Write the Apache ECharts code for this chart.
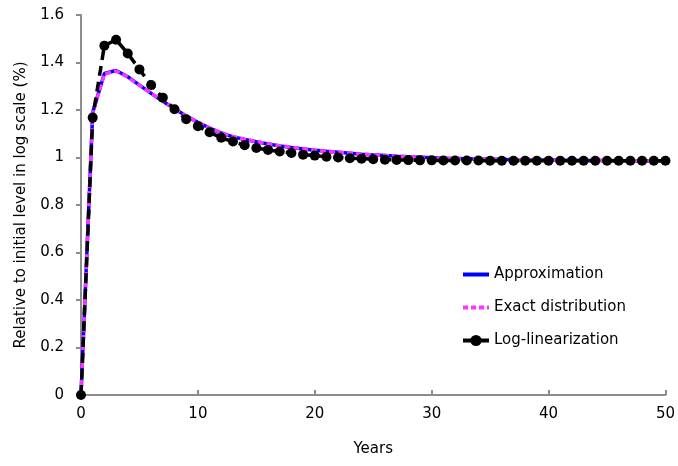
<!DOCTYPE html>
<html>
<head>
<meta charset="utf-8">
<script src="https://cdn.jsdelivr.net/npm/echarts@6/dist/echarts.min.js"></script>
<style>
html,body{margin:0;padding:0;background:#fff;}
#chart{width:678px;height:466px;}
</style>
</head>
<body>
<div id="chart"></div>
<script>
var years = [];
for (var i = 0; i <= 50; i++) years.push(i);

var approximation = [0, 1.19, 1.354, 1.366, 1.34, 1.305, 1.27, 1.237, 1.205, 1.175, 1.148,
  1.124, 1.103, 1.087, 1.076, 1.066, 1.057, 1.049, 1.042, 1.036, 1.031,
  1.026, 1.022, 1.018, 1.014, 1.011, 1.008, 1.005, 1.003, 1.001, 0.999,
  0.997, 0.996, 0.995, 0.994, 0.993, 0.992, 0.991, 0.990, 0.989, 0.989,
  0.988, 0.988, 0.987, 0.987, 0.987, 0.986, 0.986, 0.986, 0.986, 0.986];

var exactDistribution = [0, 1.188, 1.352, 1.364, 1.339, 1.304, 1.27, 1.237, 1.205, 1.175, 1.149,
  1.125, 1.104, 1.088, 1.077, 1.067, 1.058, 1.05, 1.043, 1.037, 1.031,
  1.026, 1.022, 1.018, 1.014, 1.011, 1.008, 1.005, 1.003, 1.001, 0.999,
  0.997, 0.996, 0.995, 0.994, 0.993, 0.992, 0.991, 0.990, 0.989, 0.989,
  0.988, 0.988, 0.987, 0.987, 0.987, 0.986, 0.986, 0.986, 0.986, 0.986];

var logLinearization = [0, 1.168, 1.471, 1.496, 1.438, 1.371, 1.305, 1.252, 1.203, 1.161, 1.132,
  1.106, 1.083, 1.067, 1.052, 1.040, 1.032, 1.025, 1.019, 1.012, 1.008,
  1.003, 1.000, 0.997, 0.995, 0.993, 0.991, 0.990, 0.989, 0.988, 0.988,
  0.987, 0.987, 0.987, 0.987, 0.986, 0.986, 0.986, 0.986, 0.986, 0.986,
  0.986, 0.986, 0.986, 0.986, 0.986, 0.986, 0.986, 0.986, 0.986, 0.986];

var seriesNames = ['Approximation', 'Exact distribution', 'Log-linearization'];
var xTicks = { min: 0, max: 50, interval: 10 };
var yTicks = { min: 0, max: 1.6, interval: 0.2 };

function pairs(vals) {
  return years.map(function (x, i) { return [x, vals[i]]; });
}

var FONT = 'DejaVu Sans';
var chart = echarts.init(document.getElementById('chart'), null, { renderer: 'canvas' });
chart.setOption({
  animation: false,
  backgroundColor: '#ffffff',
  textStyle: { fontFamily: FONT },
  grid: { left: 81, right: 10, top: 15, bottom: 71, containLabel: false },
  legend: {
    orient: 'vertical',
    left: 456,
    top: 262,
    itemWidth: 26,
    itemHeight: 14,
    itemGap: 18,
    textStyle: { fontFamily: FONT, fontSize: 15, color: '#000' },
    data: [
      { name: seriesNames[0], itemStyle: { opacity: 0 }, lineStyle: { width: 4 } },
      { name: seriesNames[1], itemStyle: { opacity: 0 }, lineStyle: { width: 4, type: [5, 3] } },
      { name: seriesNames[2], lineStyle: { width: 4 } }
    ]
  },
  xAxis: {
    type: 'value',
    min: xTicks.min, max: xTicks.max, interval: xTicks.interval,
    name: 'Years',
    nameLocation: 'middle',
    nameGap: 47,
    nameTextStyle: { fontFamily: FONT, fontSize: 15, color: '#000' },
    axisLine: { lineStyle: { color: '#8c8c8c', width: 2 } },
    axisTick: { show: true, inside: true, length: 5, lineStyle: { color: '#8c8c8c', width: 2 } },
    axisLabel: { fontFamily: FONT, fontSize: 15, color: '#000', margin: 12 },
    splitLine: { show: false }
  },
  yAxis: {
    type: 'value',
    min: yTicks.min, max: yTicks.max, interval: yTicks.interval,
    name: 'Relative to initial level in log scale (%)',
    nameLocation: 'middle',
    nameRotate: 90,
    nameGap: 52,
    nameTextStyle: { fontFamily: FONT, fontSize: 15, color: '#000' },
    axisLine: { show: true, lineStyle: { color: '#8c8c8c', width: 2 } },
    axisTick: { show: true, inside: false, length: 5, lineStyle: { color: '#8c8c8c', width: 2 } },
    axisLabel: {
      fontFamily: FONT, fontSize: 15, color: '#000', margin: 17,
      formatter: function (v) { return String(Math.round(v * 10) / 10); }
    },
    splitLine: { show: false }
  },
  series: [
    {
      name: seriesNames[0], type: 'line', data: pairs(approximation),
      showSymbol: false, symbol: 'none', z: 2,
      lineStyle: { color: '#0000ff', width: 3.5 },
      itemStyle: { color: '#0000ff' }
    },
    {
      name: seriesNames[1], type: 'line', data: pairs(exactDistribution),
      showSymbol: false, symbol: 'none', z: 3,
      lineStyle: { color: '#ff33ff', width: 3.5, type: [6, 3] },
      itemStyle: { color: '#ff33ff' }
    },
    {
      name: seriesNames[2], type: 'line', data: pairs(logLinearization),
      symbol: 'circle', symbolSize: 10, z: 4,
      lineStyle: { color: '#000000', width: 3.5, type: [10, 6] },
      itemStyle: { color: '#000000' }
    }
  ]
});
</script>
</body>
</html>
